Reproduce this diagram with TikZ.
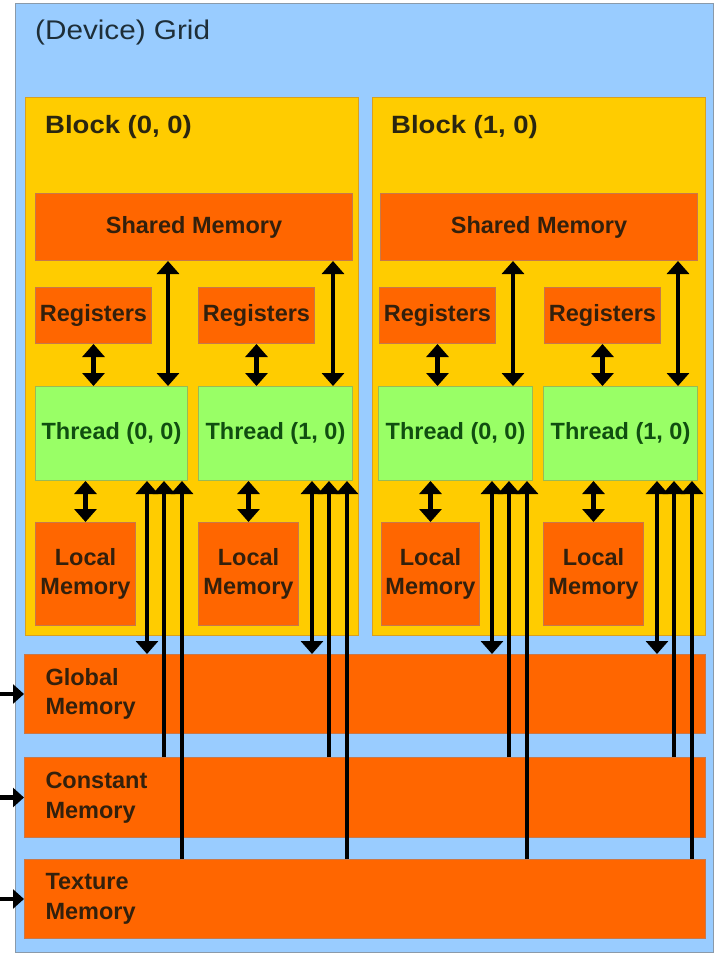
\documentclass[tikz,border=0pt]{standalone}
\usepackage{fontspec}
\setmainfont{Liberation Sans}
\usetikzlibrary{arrows.meta,calc}
\definecolor{gridblue}{HTML}{99CCFF}
\definecolor{gridedge}{HTML}{8A9AAA}
\definecolor{blockgold}{HTML}{FFCC00}
\definecolor{blockedge}{HTML}{D9A020}
\definecolor{memorange}{HTML}{FF6600}
\definecolor{memedge}{HTML}{C8784A}
\definecolor{memtext}{HTML}{33200C}
\definecolor{thrgreen}{HTML}{99FF66}
\definecolor{thredge}{HTML}{99BB55}
\definecolor{thrtext}{HTML}{104E10}
\definecolor{titletext}{HTML}{1E2E38}
\definecolor{blocktext}{HTML}{2A2610}
\newcommand{\widetext}[1]{\scalebox{1.1}[1]{#1}}
\begin{document}
\begin{tikzpicture}[x=1pt,y=-1pt,
  box/.style={anchor=north west,inner sep=0pt,line width=1pt},
  gridbox/.style={box,fill=gridblue,draw=gridedge},
  blockbox/.style={box,fill=blockgold,draw=blockedge},
  membox/.style={box,fill=memorange,draw=memedge,text=memtext,
    font=\fontsize{23.5}{29.5}\selectfont\bfseries,align=center},
  bigmem/.style={membox,minimum height=79pt,text width=639pt,inner xsep=21pt,align=left},
  thrbox/.style={box,fill=thrgreen,draw=thredge,text=thrtext,
    font=\fontsize{23.5}{28}\selectfont\bfseries,minimum width=154pt,minimum height=94pt},
  regbox/.style={membox,minimum width=116pt,minimum height=56pt},
  locbox/.style={membox,minimum width=100pt,minimum height=103pt},
  shbox/.style={membox,minimum width=317pt,minimum height=67pt},
  blocktitle/.style={anchor=west,inner sep=0pt,text=blocktext,font=\fontsize{25}{28}\selectfont\bfseries},
  con/.style={line width=4.6pt,draw=black},
  one/.style={con,-{Triangle[width=22pt,length=13pt]}},
  two/.style={con,{Triangle[width=22pt,length=13pt]}-{Triangle[width=22pt,length=13pt]}},
  inarr/.style={con,-{Triangle[width=19pt,length=11pt]}}
]
\useasboundingbox (0,0) rectangle (716,953);
\fill[white] (0,0) rectangle (716,953);

% grid
\node[gridbox,minimum width=698pt,minimum height=949pt] (grid) at (15,3) {};
\node[anchor=west,inner sep=0pt,text=titletext,font=\fontsize{27}{30}\selectfont] (gridtitle) at (35,33) {\widetext{(Device) Grid}};

% blocks
\node[blockbox,minimum width=333pt,minimum height=538pt] (blk0) at (25,97) {};
\node[blockbox,minimum width=333pt,minimum height=538pt] (blk1) at (372,97) {};
\node[blocktitle] (blk0title) at (45,127) {\widetext{Block (0, 0)}};
\node[blocktitle] (blk1title) at (391,127) {\widetext{Block (1, 0)}};

% shared memory
\node[shbox] (sh0) at (35,193) {Shared Memory};
\node[shbox] (sh1) at (380,193) {Shared Memory};

% registers
\node[regbox] (reg00) at (35,287) {Registers};
\node[regbox] (reg01) at (198,287) {Registers};
\node[regbox] (reg10) at (379,287) {Registers};
\node[regbox] (reg11) at (544,287) {Registers};

% threads
\node[thrbox,minimum width=152pt] (th00) at (35,386) {Thread (0, 0)};
\node[thrbox] (th01) at (198,386) {Thread (1, 0)};
\node[thrbox] (th10) at (378,386) {Thread (0, 0)};
\node[thrbox] (th11) at (543,386) {Thread (1, 0)};

% local memory
\node[locbox] (loc00) at (35,522) {Local\\Memory};
\node[locbox] (loc01) at (198,522) {Local\\Memory};
\node[locbox,minimum width=98pt] (loc10) at (381,522) {Local\\Memory};
\node[locbox] (loc11) at (543,522) {Local\\Memory};

% device memories
\node[bigmem] (glob) at (24,654) {Global\\Memory};
\node[bigmem,minimum height=80pt] (cons) at (24,757) {Constant\\Memory};
\node[bigmem] (tex) at (24,859) {Texture\\Memory};

% register <-> thread, thread <-> local
\foreach \r/\t/\l in {reg00/th00/loc00,reg01/th01/loc01,reg10/th10/loc10,reg11/th11/loc11}{
  \draw[two] (\r.south) -- (\r.south |- \t.north);
  \draw[two] (\l.north |- \t.south) -- (\l.north);
}

% shared <-> thread
\foreach \t/\s in {th00/sh0,th01/sh0,th10/sh1,th11/sh1}{
  \draw[two] ([xshift=-20pt]\t.north east |- \s.south) -- ([xshift=-20pt]\t.north east);
}

% thread <-> global / constant / texture
\foreach \t in {th00,th01,th10,th11}{
  \draw[two] ([xshift=-41pt]\t.south east) -- ([xshift=-41pt]\t.south east |- glob.north);
  \draw[one] ([xshift=-24pt]\t.south east |- cons.north) -- ([xshift=-24pt]\t.south east);
  \draw[one] ([xshift=-6pt]\t.south east |- tex.north) -- ([xshift=-6pt]\t.south east);
}

% host inputs
\coordinate (edge) at (0,0);
\draw[inarr] (edge |- glob.west) -- (glob.west);
\draw[inarr] (edge |- cons.west) -- (cons.west);
\draw[inarr] (edge |- tex.west) -- (tex.west);
\end{tikzpicture}
\end{document}
